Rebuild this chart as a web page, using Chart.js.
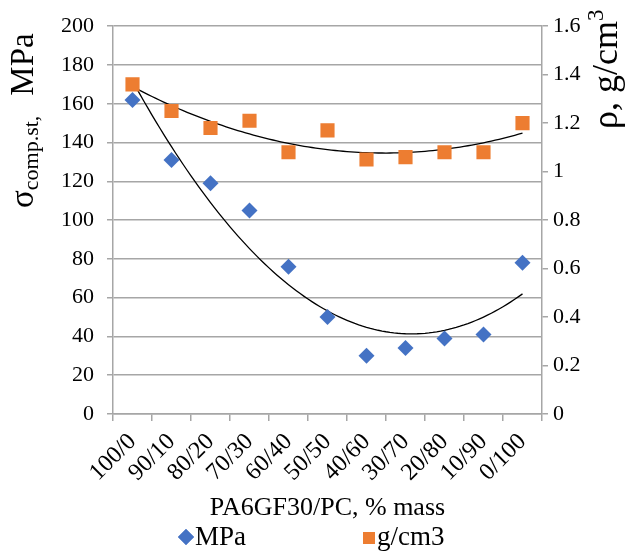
<!DOCTYPE html>
<html>
<head>
<meta charset="utf-8">
<script src="https://cdn.jsdelivr.net/npm/chart.js@4/dist/chart.umd.min.js"></script>
<style>
  html, body { margin: 0; padding: 0; background: #fff; }
  #wrap { width: 626px; height: 554px; }
</style>
</head>
<body>
<div id="wrap"><canvas id="chart"></canvas></div>
<script>
// categories and values
const blends = ['100/0', '90/10', '80/20', '70/30', '60/40', '50/50', '40/60', '30/70', '20/80', '10/90', '0/100'];
const strength = [162, 131, 119, 105, 76, 50, 30, 34, 39, 41, 78];   // MPa, left axis
const density = [1.36, 1.25, 1.18, 1.21, 1.08, 1.17, 1.05, 1.06, 1.08, 1.08, 1.20]; // g/cm3, right axis
const leftTicks = [0, 20, 40, 60, 80, 100, 120, 140, 160, 180, 200];
const rightTicks = [0, 0.2, 0.4, 0.6, 0.8, 1, 1.2, 1.4, 1.6];

const FONT = "'Liberation Serif', 'Times New Roman', serif";
const GRID = '#a6a6a6';

// 2nd order polynomial trendline (least squares, x = 1..n like Excel does)
function polyFit2(ys) {
  let s = [0, 0, 0, 0, 0], t = [0, 0, 0];
  ys.forEach((y, i) => {
    const x = i + 1;
    for (let k = 0; k < 5; k++) s[k] += Math.pow(x, k);
    for (let k = 0; k < 3; k++) t[k] += y * Math.pow(x, k);
  });
  const m = [[s[0], s[1], s[2], t[0]], [s[1], s[2], s[3], t[1]], [s[2], s[3], s[4], t[2]]];
  for (let c = 0; c < 3; c++) {
    for (let r = c + 1; r < 3; r++) {
      const f = m[r][c] / m[c][c];
      for (let k = c; k < 4; k++) m[r][k] -= f * m[c][k];
    }
  }
  const a = [0, 0, 0];
  for (let r = 2; r >= 0; r--) {
    let v = m[r][3];
    for (let k = r + 1; k < 3; k++) v -= m[r][k] * a[k];
    a[r] = v / m[r][r];
  }
  return x => a[0] + a[1] * x + a[2] * x * x;
}

function trend(ys) {
  const f = polyFit2(ys);
  const pts = [];
  for (let x = 1; x <= ys.length + 0.0001; x += 0.1) pts.push({ x: x, y: f(x) });
  return pts;
}

// axis titles with sub/superscripts, and the legend
const axisTitles = {
  id: 'axisTitles',
  afterDraw(chart) {
    const ctx = chart.ctx;
    ctx.save();
    ctx.fillStyle = '#000';
    ctx.textBaseline = 'alphabetic';
    ctx.textAlign = 'left';

    // left: σ comp.st,  MPa
    ctx.save();
    ctx.translate(33, 208);
    ctx.rotate(-Math.PI / 2);
    let x = 0;
    ctx.font = '33px ' + FONT;
    ctx.fillText('σ', x, 0);
    x += ctx.measureText('σ').width;
    ctx.font = '22px ' + FONT;
    ctx.fillText('comp.st,', x, 5);
    x += ctx.measureText('comp.st,').width + 20;
    ctx.font = '33px ' + FONT;
    ctx.fillText('MPa', x, 0);
    ctx.restore();

    // right: ρ, g/cm3
    ctx.save();
    ctx.translate(617, 129);
    ctx.rotate(-Math.PI / 2);
    ctx.font = '36px ' + FONT;
    ctx.fillText('ρ, g/cm', 0, 0);
    const w = ctx.measureText('ρ, g/cm').width;
    ctx.font = '23px ' + FONT;
    ctx.fillText('3', w, -14);
    ctx.restore();

    // legend
    const items = chart.data.datasets.filter(d => !d.isTrend);
    const pos = [{ px: 186, py: 537, tx: 195 }, { px: 369, py: 538, tx: 377 }];
    items.forEach((d, i) => {
      const p = pos[i];
      ctx.fillStyle = d.backgroundColor;
      ctx.beginPath();
      Chart.helpers.drawPoint(ctx, { pointStyle: d.pointStyle, radius: d.legendRadius, rotation: 0, borderWidth: 0 }, p.px, p.py);
      ctx.fill();
      ctx.fillStyle = '#000';
      ctx.font = '27px ' + FONT;
      ctx.textBaseline = 'middle';
      ctx.fillText(d.label, p.tx, 538);
    });
    ctx.restore();
  }
};

new Chart(document.getElementById('chart'), {
  type: 'line',
  data: {
    labels: blends,
    datasets: [
      {
        label: 'MPa',
        data: strength,
        yAxisID: 'y',
        showLine: false,
        pointStyle: 'rectRot',
        pointRadius: 8,
        legendRadius: 8,
        pointBorderWidth: 0,
        backgroundColor: '#4472C4',
        borderColor: '#4472C4'
      },
      {
        label: 'g/cm3',
        data: density,
        yAxisID: 'y1',
        showLine: false,
        pointStyle: 'rect',
        pointRadius: 10,
        legendRadius: 8.5,
        pointBorderWidth: 0,
        backgroundColor: '#ED7D31',
        borderColor: '#ED7D31'
      },
      {
        label: 'trend MPa',
        isTrend: true,
        data: trend(strength),
        xAxisID: 'x2',
        yAxisID: 'y',
        borderColor: '#000',
        borderWidth: 1.3,
        pointRadius: 0,
        tension: 0
      },
      {
        label: 'trend g/cm3',
        isTrend: true,
        data: trend(density),
        xAxisID: 'x2',
        yAxisID: 'y1',
        borderColor: '#000',
        borderWidth: 1.3,
        pointRadius: 0,
        tension: 0
      }
    ]
  },
  options: {
    responsive: true,
    maintainAspectRatio: false,
    animation: false,
    layout: { padding: { top: 20, left: 0, right: 0, bottom: 30 } },
    plugins: {
      legend: { display: false },
      tooltip: { enabled: false }
    },
    scales: {
      x: {
        type: 'category',
        offset: true,
        grid: { offset: true, drawOnChartArea: false, color: GRID, tickLength: 7, lineWidth: 1.5 },
        border: { color: GRID, width: 1.5 },
        ticks: { color: '#000', font: { family: FONT, size: 24 }, minRotation: 45, maxRotation: 45, padding: 7, autoSkip: false },
        title: { display: true, text: 'PA6GF30/PC, % mass', color: '#000', font: { family: FONT, size: 26 }, padding: 0 },
        afterFit: s => { s.height = 110; }
      },
      x2: {
        type: 'linear',
        display: false,
        min: 0.5,
        max: blends.length + 0.5
      },
      y: {
        position: 'left',
        min: 0,
        max: 200,
        afterBuildTicks: s => { s.ticks = leftTicks.map(v => ({ value: v })); },
        grid: { color: GRID, tickLength: 6, lineWidth: 1.5 },
        border: { color: GRID, width: 1.5 },
        ticks: { color: '#000', font: { family: FONT, size: 22 }, padding: 13 },
        afterFit: s => { s.width = 113; }
      },
      y1: {
        position: 'right',
        min: 0,
        max: 1.6,
        afterBuildTicks: s => { s.ticks = rightTicks.map(v => ({ value: v })); },
        grid: { drawOnChartArea: false, color: GRID, tickLength: 6, lineWidth: 1.5 },
        border: { color: GRID, width: 1.5 },
        ticks: { color: '#000', font: { family: FONT, size: 22 }, padding: 5, callback: v => String(+v.toFixed(1)) },
        afterFit: s => { s.width = 84; }
      }
    }
  },
  plugins: [axisTitles]
});
</script>
</body>
</html>
